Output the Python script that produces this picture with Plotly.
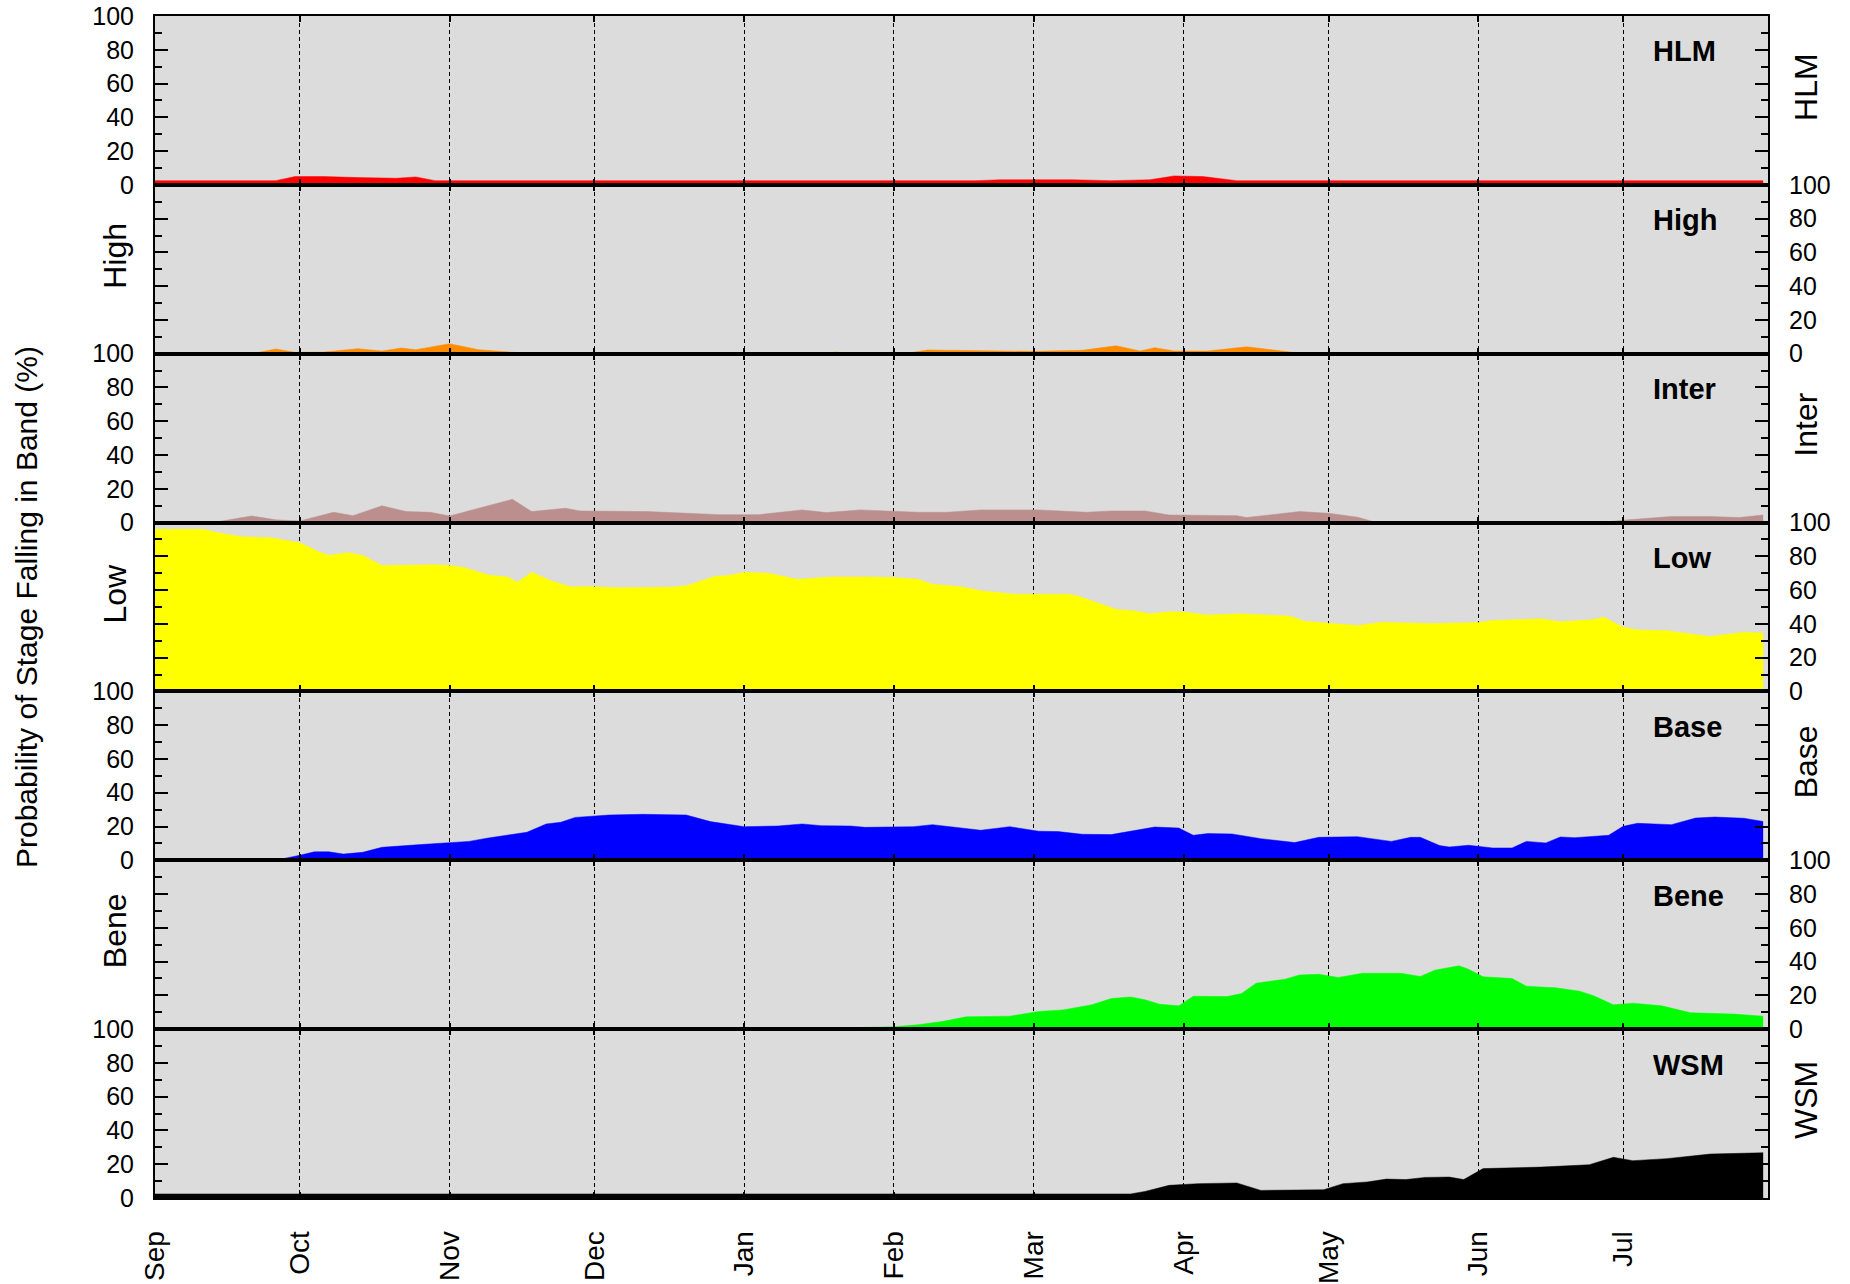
import plotly.graph_objects as go
from plotly.subplots import make_subplots

# ---------------- data ----------------
bands = ["HLM", "High", "Inter", "Low", "Base", "Bene", "WSM"]
band_colors = ["#ff0000", "#ff8c00", "#bc8f8f", "#ffff00", "#0000ff", "#00ff00", "#000000"]

hlm_dates = ["2023-09-01", "2023-09-26", "2023-09-30", "2023-10-06", "2023-10-13", "2023-10-21",
             "2023-10-25", "2023-10-29", "2024-02-18", "2024-02-23", "2024-03-09", "2024-03-17",
             "2024-03-25", "2024-03-30", "2024-04-05", "2024-04-12", "2024-07-30"]
hlm_vals = [2.5, 2.5, 4.9, 4.9, 4.3, 3.9, 4.7, 2.5, 2.5, 3.0, 3.0, 2.5, 3.0, 5.3, 4.9, 2.5, 2.5]

high_dates = ["2023-09-01", "2023-09-21", "2023-09-26", "2023-09-30", "2023-10-06", "2023-10-13",
              "2023-10-18", "2023-10-22", "2023-10-25", "2023-11-01", "2023-11-07", "2023-11-13",
              "2023-11-18", "2024-01-17", "2024-01-20", "2024-01-23", "2024-02-03", "2024-02-08",
              "2024-02-19", "2024-03-01", "2024-03-11", "2024-03-18", "2024-03-23", "2024-03-26",
              "2024-03-30", "2024-04-06", "2024-04-14", "2024-04-23", "2024-04-26", "2024-07-30"]
high_vals = [0, 0, 2.8, 0.8, 1.0, 3.0, 1.6, 3.4, 2.4, 5.9, 2.4, 1.2, 0, 0, 1.0, 0, 0, 2.2,
             1.8, 1.4, 2.0, 4.7, 1.6, 3.6, 1.6, 1.6, 4.1, 0.8, 0, 0]

inter_dates = ["2023-09-01", "2023-09-13", "2023-09-21", "2023-09-26", "2023-10-01", "2023-10-08",
               "2023-10-12", "2023-10-18", "2023-10-23", "2023-10-28", "2023-11-01", "2023-11-08",
               "2023-11-14", "2023-11-18", "2023-11-25", "2023-11-28", "2023-12-12", "2023-12-27",
               "2024-01-04", "2024-01-13", "2024-01-18", "2024-01-25", "2024-02-06", "2024-02-12",
               "2024-02-19", "2024-03-02", "2024-03-12", "2024-03-17", "2024-03-24", "2024-03-29",
               "2024-04-12", "2024-04-14", "2024-04-25", "2024-05-01", "2024-05-07", "2024-05-11",
               "2024-06-26", "2024-07-02", "2024-07-11", "2024-07-19", "2024-07-25", "2024-07-30"]
inter_vals = [0, 0, 3.9, 1.6, 1.0, 6.1, 4.1, 9.9, 6.5, 6.1, 3.9, 9.1, 13.8, 6.5, 8.5, 6.9, 6.5,
              4.7, 4.7, 7.5, 5.9, 7.5, 6.1, 6.1, 7.5, 7.5, 6.1, 6.9, 6.9, 4.5, 4.1, 3.0, 6.5, 5.5,
              3.2, 0, 0, 1.6, 3.6, 3.6, 3.0, 4.5]

low_dates = ["2023-09-01", "2023-09-11", "2023-09-14", "2023-09-19", "2023-09-25", "2023-10-01",
             "2023-10-05", "2023-10-07", "2023-10-11", "2023-10-14", "2023-10-18", "2023-10-29",
             "2023-11-01", "2023-11-04", "2023-11-09", "2023-11-13", "2023-11-15", "2023-11-18",
             "2023-11-22", "2023-11-26", "2023-12-01", "2023-12-06", "2023-12-17", "2023-12-20",
             "2023-12-26", "2023-12-29", "2024-01-01", "2024-01-06", "2024-01-12", "2024-01-19",
             "2024-01-27", "2024-02-01", "2024-02-06", "2024-02-09", "2024-02-15", "2024-02-19",
             "2024-02-26", "2024-03-08", "2024-03-10", "2024-03-14", "2024-03-18", "2024-03-22",
             "2024-03-25", "2024-03-29", "2024-04-01", "2024-04-06", "2024-04-13", "2024-04-23",
             "2024-04-26", "2024-05-01", "2024-05-07", "2024-05-12", "2024-05-22", "2024-06-01",
             "2024-06-04", "2024-06-14", "2024-06-18", "2024-06-25", "2024-06-27", "2024-07-01",
             "2024-07-04", "2024-07-10", "2024-07-19", "2024-07-26", "2024-07-30"]
low_vals = [96, 96, 94, 91.6, 91, 88, 82.6, 80.6, 82.2, 80.6, 74.6, 75, 74.6, 73.4, 69, 67.8,
            64.6, 70.6, 65.6, 62, 62, 61.4, 61.8, 62.6, 68.2, 68.8, 70.6, 70, 66.4, 67.8, 67.8,
            67.4, 66.4, 63.4, 62, 59.6, 57.6, 57.6, 56.6, 52.6, 48.6, 47.6, 46, 47.2, 47, 45.2,
            46, 44.6, 41.6, 40.4, 39, 41, 40.2, 40.8, 42, 43, 41.2, 42.6, 44, 38, 36.4, 36,
            32.6, 35, 34.6]

base_dates = ["2023-09-01", "2023-09-26", "2023-10-01", "2023-10-04", "2023-10-07", "2023-10-10",
              "2023-10-14", "2023-10-18", "2023-10-26", "2023-11-01", "2023-11-05", "2023-11-09",
              "2023-11-17", "2023-11-21", "2023-11-24", "2023-11-27", "2023-12-01", "2023-12-04",
              "2023-12-11", "2023-12-20", "2023-12-25", "2023-12-29", "2024-01-01", "2024-01-08",
              "2024-01-13", "2024-01-17", "2024-01-23", "2024-01-26", "2024-02-05", "2024-02-09",
              "2024-02-13", "2024-02-19", "2024-02-25", "2024-03-02", "2024-03-06", "2024-03-11",
              "2024-03-17", "2024-03-21", "2024-03-26", "2024-03-31", "2024-04-03", "2024-04-06",
              "2024-04-11", "2024-04-17", "2024-04-24", "2024-04-29", "2024-05-07", "2024-05-14",
              "2024-05-18", "2024-05-20", "2024-05-24", "2024-05-26", "2024-05-30", "2024-06-04",
              "2024-06-08", "2024-06-11", "2024-06-15", "2024-06-18", "2024-06-21", "2024-06-28",
              "2024-07-01", "2024-07-04", "2024-07-11", "2024-07-16", "2024-07-20", "2024-07-26",
              "2024-07-30"]
base_vals = [0, 0, 3, 5, 5, 3.7, 4.7, 7.7, 9.3, 10.7, 11.2, 13.2, 16.6, 21.5, 22.5, 25.4, 26.4,
             26.8, 27.2, 26.8, 22.9, 21.3, 19.9, 20.3, 21.5, 20.5, 20.3, 19.5, 19.9, 21.1, 19.9,
             17.8, 19.9, 17.2, 17, 15.4, 15.2, 17.4, 19.7, 19.1, 14.8, 15.8, 15.6, 12.8, 10.5,
             13.6, 14, 11.2, 13.6, 13.6, 8.7, 7.9, 8.9, 7.3, 7.3, 11.2, 10.3, 13.8, 13.4, 14.8,
             20.1, 21.9, 21.1, 25, 25.6, 24.9, 23]

bene_dates = ["2023-09-01", "2024-01-23", "2024-01-25", "2024-02-01", "2024-02-06", "2024-02-11",
              "2024-02-16", "2024-02-25", "2024-03-02", "2024-03-07", "2024-03-13", "2024-03-17",
              "2024-03-21", "2024-03-24", "2024-03-27", "2024-03-31", "2024-04-03", "2024-04-10",
              "2024-04-13", "2024-04-16", "2024-04-22", "2024-04-25", "2024-04-29", "2024-05-03",
              "2024-05-08", "2024-05-16", "2024-05-20", "2024-05-23", "2024-05-28", "2024-05-30",
              "2024-06-02", "2024-06-08", "2024-06-11", "2024-06-17", "2024-06-22", "2024-06-25",
              "2024-06-29", "2024-07-03", "2024-07-09", "2024-07-15", "2024-07-24", "2024-07-30"]
bene_vals = [0, 0, 1, 1.4, 2.6, 4.5, 7.3, 7.7, 10.5, 11.4, 14.4, 18.1, 19.1, 17.4, 14.8, 13.8,
             19.5, 19.3, 21.1, 27.2, 29.6, 32.1, 32.5, 30.6, 33.1, 33.1, 31.2, 34.9, 37.5, 35.5,
             31, 30, 25.4, 24.5, 22.5, 19.7, 14.4, 15.4, 13.8, 9.7, 8.9, 7.7]

wsm_dates = ["2023-09-01", "2024-03-21", "2024-03-24", "2024-03-29", "2024-04-04", "2024-04-12",
             "2024-04-17", "2024-04-30", "2024-05-04", "2024-05-09", "2024-05-13", "2024-05-17",
             "2024-05-21", "2024-05-26", "2024-05-29", "2024-06-02", "2024-06-14", "2024-06-24",
             "2024-06-29", "2024-07-03", "2024-07-10", "2024-07-19", "2024-07-30"]
wsm_vals = [2.4, 2.4, 3.9, 7.5, 8.5, 8.9, 4.5, 4.9, 8.5, 9.5, 11.2, 10.9, 12.2, 12.4, 10.9, 17.4,
            18.3, 19.7, 24.1, 22.1, 23.3, 26, 26.8]

month_ticks = ["2023-09-01", "2023-10-01", "2023-11-01", "2023-12-01", "2024-01-01", "2024-02-01",
               "2024-03-01", "2024-04-01", "2024-05-01", "2024-06-01", "2024-07-01"]
month_labels = ["Sep", "Oct", "Nov", "Dec", "Jan", "Feb", "Mar", "Apr", "May", "Jun", "Jul"]
x_range = ["2023-09-01", "2024-07-31"]
y_title = "Probability of Stage Falling in Band (%)"

series = [(hlm_dates, hlm_vals), (high_dates, high_vals), (inter_dates, inter_vals),
          (low_dates, low_vals), (base_dates, base_vals), (bene_dates, bene_vals),
          (wsm_dates, wsm_vals)]

# ---------------- figure ----------------
FONT = "Liberation Sans, Arial, sans-serif"
W, H = 1850, 1284
ML, MR, MT, MB = 155, 82, 16, 86
PW = W - ML - MR

fig = make_subplots(rows=7, cols=1, shared_xaxes=True, vertical_spacing=0)

for i, ((xs, ys), name, col) in enumerate(zip(series, bands, band_colors)):
    r = i + 1
    fig.add_trace(go.Scatter(x=xs, y=ys, mode="lines", name=name,
                             line=dict(color=col, width=0.5),
                             fill="tozeroy", fillcolor=col, showlegend=False,
                             hoverinfo="x+y"), row=r, col=1)
    odd = (r % 2 == 1)
    fig.update_yaxes(row=r, col=1, range=[0, 100], tickvals=[0, 20, 40, 60, 80, 100],
                     side="left" if odd else "right", automargin=False,
                     ticks="inside", ticklen=13, tickwidth=1.5, tickcolor="black",
                     minor=dict(ticks="inside", ticklen=7, tickwidth=1.5, tickcolor="black",
                                dtick=10, showgrid=False),
                     showline=True, linecolor="black", linewidth=2, mirror="ticks",
                     showgrid=False, zeroline=False, ticklabelstandoff=14,
                     tickfont=dict(family=FONT, size=25, color="black"), fixedrange=True)
    fig.update_xaxes(row=r, col=1, range=x_range, type="date", automargin=False,
                     tickvals=month_ticks, ticktext=month_labels,
                     ticks="inside", ticklen=6, tickwidth=1.5, tickcolor="black",
                     showline=True, linecolor="black", linewidth=2, mirror="ticks",
                     showgrid=True, gridcolor="black", gridwidth=1, griddash="4px,3px",
                     zeroline=False)

fig.update_xaxes(row=7, col=1, tickangle=-90, ticklabelstandoff=20,
                 tickfont=dict(family=FONT, size=28, color="black"))

annotations = []
for i, name in enumerate(bands):
    r = i + 1
    yref = "y domain" if r == 1 else f"y{r} domain"
    # bold label inside panel
    annotations.append(dict(text=f"<b>{name}</b>", xref="paper", yref=yref,
                            x=(1651 - ML) / PW, y=0.79, xanchor="left", yanchor="middle",
                            showarrow=False, font=dict(family=FONT, size=29, color="black")))
    # side label
    xpos = (115 - ML) / PW if r % 2 == 0 else (1806 - ML) / PW
    annotations.append(dict(text=name, xref="paper", yref=yref, x=xpos, y=0.58,
                            xanchor="center", yanchor="middle", textangle=-90,
                            showarrow=False, font=dict(family=FONT, size=32, color="black")))

annotations.append(dict(text=y_title, xref="paper", yref="paper", x=(26 - ML) / PW, y=0.5,
                        xanchor="center", yanchor="middle", textangle=-90, showarrow=False,
                        font=dict(family=FONT, size=30, color="black")))

fig.update_layout(width=W, height=H, margin=dict(l=ML, r=MR, t=MT, b=MB, autoexpand=False),
                  paper_bgcolor="white", plot_bgcolor="#dcdcdc",
                  font=dict(family=FONT, color="black"),
                  annotations=annotations, showlegend=False)

fig.write_html("out.html", config={"displayModeBar": False},
               post_script="document.body.style.margin='0';document.body.style.overflow='hidden';")
